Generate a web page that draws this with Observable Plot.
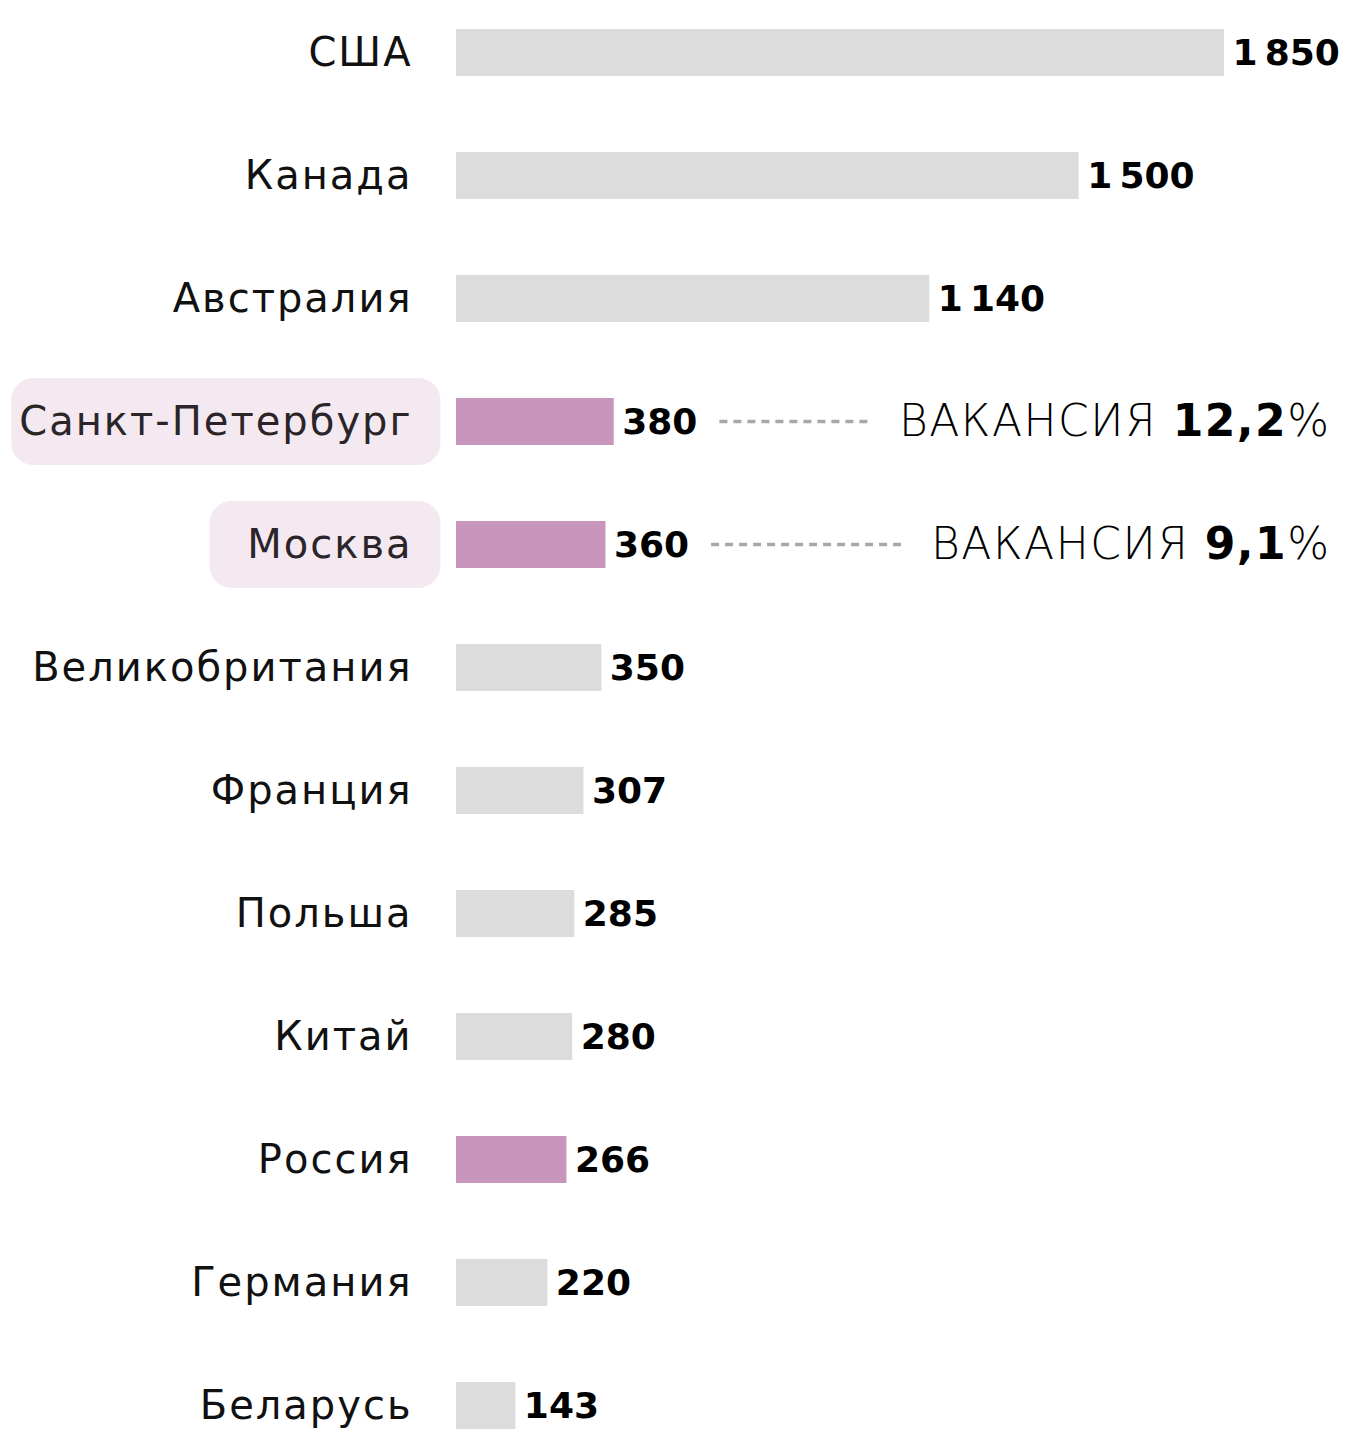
<!DOCTYPE html>
<html><head><meta charset="utf-8">
<script src="https://cdn.jsdelivr.net/npm/d3@7"></script>
<script src="https://cdn.jsdelivr.net/npm/@observablehq/plot@0.6"></script>
<style>body{margin:0;background:#fff}</style>
</head><body><div id="chart"></div>
<script>
// ---- data ----
const categories = ["США","Канада","Австралия","Санкт-Петербург","Москва","Великобритания","Франция","Польша","Китай","Россия","Германия","Беларусь"];
const values = [1850,1500,1140,380,360,350,307,285,280,266,220,143];
const highlightedBars = ["Санкт-Петербург","Москва","Россия"];
const boxedLabels = ["Санкт-Петербург","Москва"];
const vacancyCities = ["Санкт-Петербург","Москва"];
const vacancyRates = ["12,2","9,1"];
const vacancyWord = "ВАКАНСИЯ";

const data = categories.map((name,i)=>({name, value: values[i], hi: highlightedBars.includes(name)}));
const vac = vacancyCities.map((name,i)=>({name, rate: vacancyRates[i]}));
const fmt = d3.formatLocale({decimal:",", thousands:"\u2009", grouping:[3], currency:["",""]}).format(",d");

const FONT = "DejaVu Sans";
const plot = Plot.plot({
  width: 1349, height: 1431,
  marginLeft: 456, marginRight: 125, marginTop: 27.5, marginBottom: 1.5,
  x: {domain: [0, 1850], axis: null},
  y: {domain: categories, axis: null, paddingInner: 0.62, paddingOuter: 0},
  color: {domain: [false, true], range: ["#dcdcdc", "#c896bd"]},
  style: {fontFamily: FONT, background: "white", overflow: "visible"},
  marks: [
    Plot.barX(data, {x: "value", y: "name", fill: "hi"}),
    Plot.text(data, {x: 0, y: "name", text: "name", textAnchor: "end", dx: -44, fontSize: 40,
      fill: d => boxedLabels.includes(d.name) ? "#2b2428" : "#111", className: "cat"}),
    Plot.text(data, {x: "value", y: "name", text: d => fmt(d.value), textAnchor: "start", dx: 8,
      fontSize: 36, fontWeight: "bold", fill: "#000", className: "val"}),
    Plot.text(vac, {y: "name", frameAnchor: "right", dx: 106, textAnchor: "end", text: d => `${vacancyWord} ${d.rate}%`,
      fontSize: 44, fill: "#000", className: "vac"})
  ]
});
document.getElementById("chart").appendChild(plot);
const svg = d3.select(plot);
svg.selectAll(".cat text").attr("letter-spacing", 2);

// rich text for vacancy labels
svg.selectAll(".vac text").attr("letter-spacing", 1.5).each(function(i){
  const d = vac[i];
  const t = d3.select(this); t.text(null);
  t.append("tspan").attr("font-weight", 200).text(vacancyWord + " ");
  t.append("tspan").attr("font-weight", "bold").text(d.rate);
  t.append("tspan").attr("font-weight", 200).text("%");
});

const origin = plot.getBoundingClientRect();
const box = el => { const r = el.getBoundingClientRect(); return {x: r.left - origin.left, y: r.top - origin.top, width: r.width, height: r.height}; };
const cats = svg.selectAll(".cat text").nodes();
const vals = svg.selectAll(".val text").nodes();
const vacs = svg.selectAll(".vac text").nodes();
const y = plot.scale("y");

// highlight boxes behind boxed labels
const boxLayer = svg.insert("g", ":first-child");
categories.forEach((name,i)=>{
  if (!boxedLabels.includes(name)) return;
  const b = box(cats[i]);
  const cy = y.apply(name) + y.bandwidth/2;
  const right = b.x + b.width + 28;
  const left = Math.min(b.x - 8, right - 231);
  boxLayer.append("rect").attr("x", left).attr("y", cy - 43.5).attr("width", right-left).attr("height", 87)
    .attr("rx", 22).attr("fill", "#f4e9f1");
});
// dotted connectors
vac.forEach((d,j)=>{
  const i = categories.indexOf(d.name);
  const a = box(vals[i]), c = box(vacs[j]);
  const cy = y.apply(d.name) + y.bandwidth/2;
  svg.append("line").attr("x1", a.x + a.width + 22).attr("x2", c.x - 30).attr("y1", cy).attr("y2", cy)
    .attr("stroke", "#a8a8a8").attr("stroke-width", 3.5).attr("stroke-dasharray", "8 6");
});
</script></body></html>
